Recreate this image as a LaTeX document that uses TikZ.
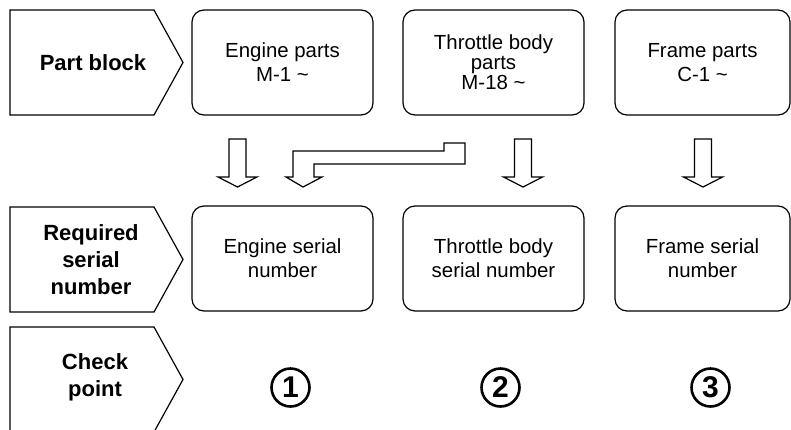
\documentclass[tikz,border=0pt]{standalone}
\usepackage{fontspec}
\setmainfont{Liberation Sans}
\usetikzlibrary{positioning}

\tikzset{
  partbox/.style={draw, rounded corners=6pt, minimum width=90.5pt, minimum height=52.5pt, align=center, line width=0.6pt, font=\fontsize{10.2}{12}\selectfont},
  rowtag/.style={align=center, font=\bfseries\fontsize{11}{13.5}\selectfont},
  chevron/.style={draw, line width=0.6pt},
  hollow/.style={draw, line width=0.6pt, fill=white},
  checkno/.style={draw, circle, line width=1.3pt, minimum size=19pt, inner sep=0pt, font=\bfseries\fontsize{15}{15}\selectfont}
}

\begin{document}
\begin{tikzpicture}[x=0.5pt, y=-0.5pt]
\useasboundingbox (0,0) rectangle (791,429);
\clip (0,0) rectangle (791,429);

% row tags
\draw[chevron] (10,10) -- (154,10) -- (183,62.5) -- (154,115) -- (10,115) -- cycle;
\draw[chevron] (10,207) -- (154,207) -- (183,259.5) -- (154,312) -- (10,312) -- cycle;
\draw[chevron] (10,327) -- (154,327) -- (183,379.5) -- (154,432) -- (10,432) -- cycle;

\node[rowtag] (tagpart) at (93,62.5) {Part block};
\node[rowtag] (tagserial) at (91,259.5) {Required\\serial\\number};
\node[rowtag] (tagcheck) at (95,377) {Check\\point};

% part blocks
\node[partbox] (engparts) at (282.5,62.5) {Engine parts\\M-1 \textasciitilde};
\node[partbox, font=\fontsize{10.2}{10}\selectfont] (thrparts) at (493.5,62.5) {Throttle body\\parts\\M-18 \textasciitilde};
\node[partbox, minimum width=87.5pt] (frmparts) at (702.5,62.5) {Frame parts\\C-1 \textasciitilde};

% serial numbers
\node[partbox] (engserial) at (282.5,258.5) {Engine serial\\number};
\node[partbox] (thrserial) at (493.5,258.5) {Throttle body\\serial number};
\node[partbox, minimum width=87.5pt] (frmserial) at (702.5,258.5) {Frame serial\\number};

% hollow arrows
\foreach \cx in {237.5, 523, 703}
  \draw[hollow] ({\cx-8.5},139) -- ({\cx+8.5},139) -- ({\cx+8.5},177) -- ({\cx+19.5},177)
    -- (\cx,187) -- ({\cx-19.5},177) -- ({\cx-8.5},177) -- cycle;
\draw[hollow] (293,177) -- (293,151) -- (444,151) -- (444,143) -- (465,143) -- (465,164)
  -- (314,164) -- (314,177) -- (322,177) -- (303,187) -- (286,177) -- cycle;

% check points
\node[checkno] (check1) at (290.5,387.5) {1};
\node[checkno] (check2) at (500.5,387.5) {2};
\node[checkno] (check3) at (710.5,387.5) {3};
\end{tikzpicture}
\end{document}
